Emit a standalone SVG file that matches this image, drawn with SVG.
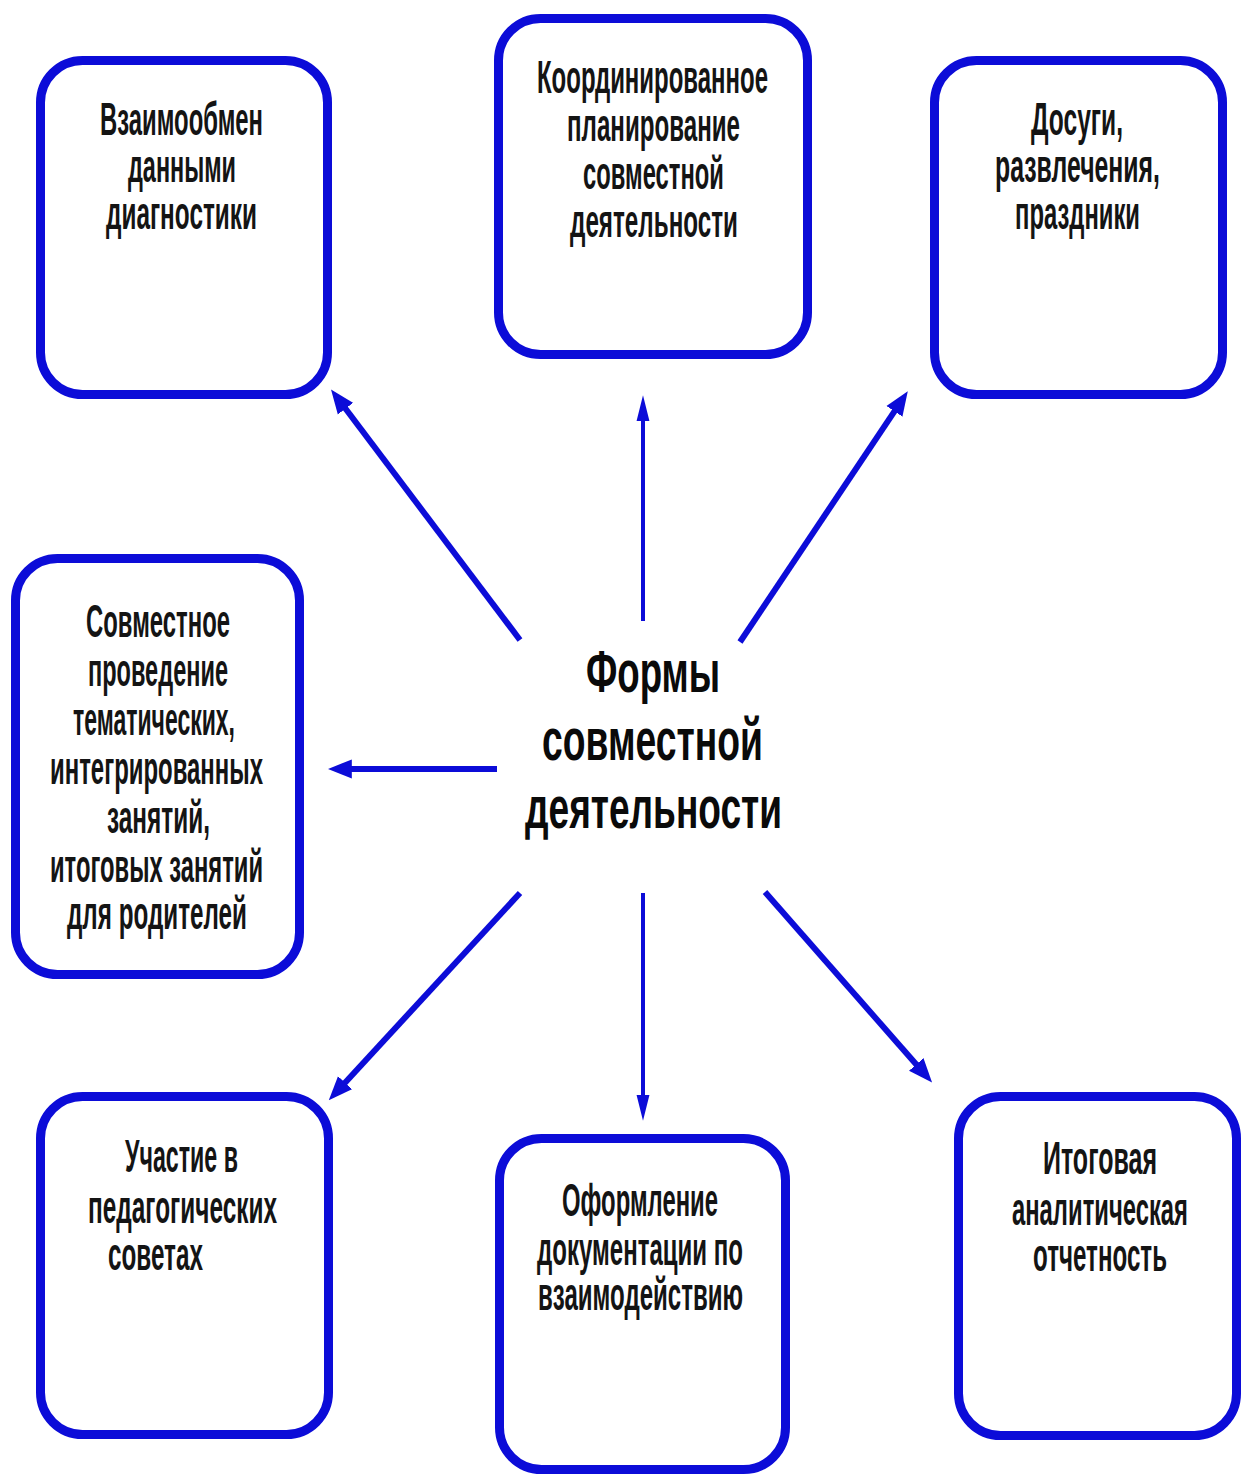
<svg xmlns="http://www.w3.org/2000/svg" width="1243" height="1477" viewBox="0 0 1243 1477">
<style>
.box{fill:#fff;stroke:#0c0cd8;stroke-width:9}
.t{font-family:"Liberation Sans",Arial,sans-serif;font-weight:bold;font-size:36px;fill:#141414;text-anchor:middle}
.c{font-family:"Liberation Sans",Arial,sans-serif;font-weight:bold;font-size:60px;fill:#0a0a0a;text-anchor:middle}
.d{stroke:#0c0cd8;stroke-width:6;fill:none;marker-end:url(#ah)}
.v{stroke:#0c0cd8;stroke-width:4;fill:none;marker-end:url(#av)}
</style>
<defs>
<marker id="ah" markerUnits="userSpaceOnUse" markerWidth="24" markerHeight="20" refX="4" refY="8" orient="auto" viewBox="0 0 20 16">
<path d="M0,0 L20,8 L0,16 Z" fill="#0c0cd8"/>
</marker>
<marker id="av" markerUnits="userSpaceOnUse" markerWidth="26" markerHeight="14" refX="4" refY="6" orient="auto" viewBox="0 0 24 12">
<path d="M0,0 L24,6 L0,12 Z" fill="#0c0cd8"/>
</marker>
</defs>
<rect width="1243" height="1477" fill="#fff"/>
<g id="connectors">
<line class="d" x1="520" y1="640" x2="342.6" y2="404.8"/>
<line class="v" x1="643" y1="621" x2="643" y2="417"/>
<line class="d" x1="740" y1="642" x2="897.1" y2="407.3"/>
<line class="d" x1="497" y1="769" x2="347" y2="769"/>
<line class="d" x1="520" y1="893" x2="341.8" y2="1086.2"/>
<line class="v" x1="643" y1="893" x2="643" y2="1099"/>
<line class="d" x1="765" y1="892" x2="919.4" y2="1068"/>
</g>
<g id="center">
<text class="c" x="653" y="692" textLength="134" lengthAdjust="spacingAndGlyphs">Формы</text>
<text class="c" x="652.5" y="760" textLength="221" lengthAdjust="spacingAndGlyphs">совместной</text>
<text class="c" x="653.5" y="828" textLength="257" lengthAdjust="spacingAndGlyphs">деятельности</text>
</g>
<g id="n1">
<rect class="box" x="40.5" y="60.5" width="287" height="334" rx="42"/>
<text class="t" x="181.5" y="135" transform="matrix(1,0,0,1.3,0,-40.5)" textLength="163" lengthAdjust="spacingAndGlyphs">Взаимообмен</text>
<text class="t" x="182" y="182" transform="matrix(1,0,0,1.3,0,-54.6)" textLength="108" lengthAdjust="spacingAndGlyphs">данными</text>
<text class="t" x="181.5" y="229" transform="matrix(1,0,0,1.3,0,-68.7)" textLength="151" lengthAdjust="spacingAndGlyphs">диагностики</text>
</g>
<g id="n2">
<rect class="box" x="498.5" y="18.5" width="309" height="336" rx="42"/>
<text class="t" x="652.5" y="93" transform="matrix(1,0,0,1.3,0,-27.9)" textLength="231" lengthAdjust="spacingAndGlyphs">Координированное</text>
<text class="t" x="653.5" y="141" transform="matrix(1,0,0,1.3,0,-42.3)" textLength="173" lengthAdjust="spacingAndGlyphs">планирование</text>
<text class="t" x="653.5" y="189" transform="matrix(1,0,0,1.3,0,-56.7)" textLength="141" lengthAdjust="spacingAndGlyphs">совместной</text>
<text class="t" x="654" y="237" transform="matrix(1,0,0,1.3,0,-71.1)" textLength="168" lengthAdjust="spacingAndGlyphs">деятельности</text>
</g>
<g id="n3">
<rect class="box" x="934.5" y="60.5" width="288" height="334" rx="42"/>
<text class="t" x="1077" y="135" transform="matrix(1,0,0,1.3,0,-40.5)" textLength="92" lengthAdjust="spacingAndGlyphs">Досуги,</text>
<text class="t" x="1077.5" y="182" transform="matrix(1,0,0,1.3,0,-54.6)" textLength="165" lengthAdjust="spacingAndGlyphs">развлечения,</text>
<text class="t" x="1077.5" y="229" transform="matrix(1,0,0,1.3,0,-68.7)" textLength="125" lengthAdjust="spacingAndGlyphs">праздники</text>
</g>
<g id="n4">
<rect class="box" x="15.5" y="558.5" width="284" height="416" rx="42"/>
<text class="t" x="158" y="637" transform="matrix(1,0,0,1.3,0,-191.1)" textLength="144" lengthAdjust="spacingAndGlyphs">Совместное</text>
<text class="t" x="158" y="686" transform="matrix(1,0,0,1.3,0,-205.8)" textLength="140" lengthAdjust="spacingAndGlyphs">проведение</text>
<text class="t" x="154" y="735" transform="matrix(1,0,0,1.3,0,-220.5)" textLength="162" lengthAdjust="spacingAndGlyphs">тематических,</text>
<text class="t" x="156.5" y="784" transform="matrix(1,0,0,1.3,0,-235.2)" textLength="213" lengthAdjust="spacingAndGlyphs">интегрированных</text>
<text class="t" x="158.5" y="833" transform="matrix(1,0,0,1.3,0,-249.9)" textLength="103" lengthAdjust="spacingAndGlyphs">занятий,</text>
<text class="t" x="156.5" y="882" transform="matrix(1,0,0,1.3,0,-264.6)" textLength="213" lengthAdjust="spacingAndGlyphs">итоговых занятий</text>
<text class="t" x="157" y="929" transform="matrix(1,0,0,1.3,0,-278.7)" textLength="180" lengthAdjust="spacingAndGlyphs">для родителей</text>
</g>
<g id="n5">
<rect class="box" x="40.5" y="1096.5" width="288" height="338" rx="42"/>
<text class="t" x="181.5" y="1172" transform="matrix(1,0,0,1.3,0,-351.6)" textLength="113" lengthAdjust="spacingAndGlyphs">Участие в</text>
<text class="t" x="182.5" y="1223" transform="matrix(1,0,0,1.3,0,-366.9)" textLength="189" lengthAdjust="spacingAndGlyphs">педагогических</text>
<text class="t" x="155.5" y="1270" transform="matrix(1,0,0,1.3,0,-381)" textLength="95" lengthAdjust="spacingAndGlyphs">советах</text>
</g>
<g id="n6">
<rect class="box" x="499.5" y="1138.5" width="286" height="331" rx="42"/>
<text class="t" x="640" y="1216" transform="matrix(1,0,0,1.3,0,-364.8)" textLength="156" lengthAdjust="spacingAndGlyphs">Оформление</text>
<text class="t" x="640" y="1265" transform="matrix(1,0,0,1.3,0,-379.5)" textLength="206" lengthAdjust="spacingAndGlyphs">документации по</text>
<text class="t" x="640.5" y="1310" transform="matrix(1,0,0,1.3,0,-393)" textLength="205" lengthAdjust="spacingAndGlyphs">взаимодействию</text>
</g>
<g id="n7">
<rect class="box" x="958.5" y="1096.5" width="278" height="339" rx="42"/>
<text class="t" x="1100" y="1174" transform="matrix(1,0,0,1.3,0,-352.2)" textLength="114" lengthAdjust="spacingAndGlyphs">Итоговая</text>
<text class="t" x="1100" y="1225" style="font-size:31px" transform="matrix(1,0,0,1.51,0,-624.75)" textLength="176" lengthAdjust="spacingAndGlyphs">аналитическая</text>
<text class="t" x="1100" y="1271" transform="matrix(1,0,0,1.3,0,-381.3)" textLength="134" lengthAdjust="spacingAndGlyphs">отчетность</text>
</g>
</svg>
